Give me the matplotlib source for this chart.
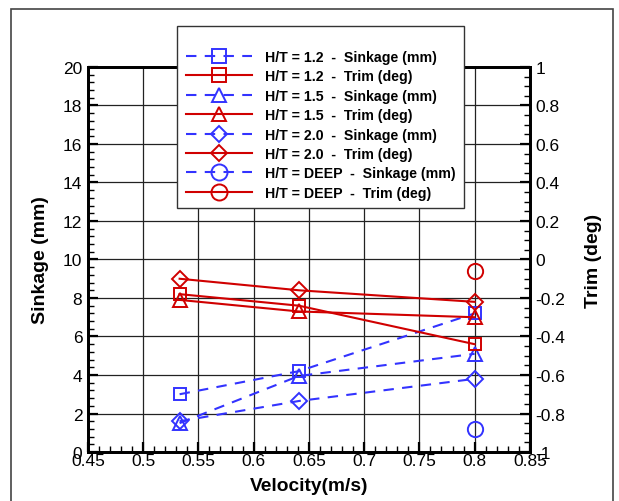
import matplotlib
matplotlib.use("Agg")
import matplotlib.pyplot as plt
from matplotlib.patches import Rectangle
from matplotlib.ticker import MultipleLocator, FuncFormatter

plt.rcParams['font.family'] = ['Liberation Sans', 'DejaVu Sans']

velocity = [0.533, 0.641, 0.8]
sink_12 = [3.0, 4.2, 7.2]
sink_15 = [1.5, 3.95, 5.1]
sink_20 = [1.6, 2.65, 3.8]
sink_deep_v = [0.8]
sink_deep = [1.2]
trim_12 = [-0.18, -0.24, -0.44]
trim_15 = [-0.21, -0.27, -0.30]
trim_20 = [-0.10, -0.16, -0.22]
trim_deep_v = [0.8]
trim_deep = [-0.06]

labels = ["H/T = 1.2  -  Sinkage (mm)", "H/T = 1.2  -  Trim (deg)",
          "H/T = 1.5  -  Sinkage (mm)", "H/T = 1.5  -  Trim (deg)",
          "H/T = 2.0  -  Sinkage (mm)", "H/T = 2.0  -  Trim (deg)",
          "H/T = DEEP  -  Sinkage (mm)", "H/T = DEEP  -  Trim (deg)"]

blue = '#3333ff'
red = '#d00000'

fig = plt.figure(figsize=(6.19, 5.02), dpi=100)
ax = fig.add_axes([0.142, 0.0976, 0.714, 0.767])
ax2 = ax.twinx()

ms = 9
bkw = dict(color=blue, ls=(0, (5, 4)), lw=1.5, mfc='none', mew=1.4)
rkw = dict(color=red, ls='-', lw=1.5, mfc='none', mew=1.4)

handles = []
h, = ax.plot(velocity, sink_12, marker='s', ms=ms, **bkw); handles.append(h)
h, = ax2.plot(velocity, trim_12, marker='s', ms=ms, **rkw); handles.append(h)
h, = ax.plot(velocity, sink_15, marker='^', ms=ms + 1, **bkw); handles.append(h)
h, = ax2.plot(velocity, trim_15, marker='^', ms=ms + 1, **rkw); handles.append(h)
h, = ax.plot(velocity, sink_20, marker='D', ms=ms - 1, **bkw); handles.append(h)
h, = ax2.plot(velocity, trim_20, marker='D', ms=ms - 1, **rkw); handles.append(h)
h, = ax.plot(sink_deep_v, sink_deep, marker='o', ms=ms + 2, **bkw); handles.append(h)
h, = ax2.plot(trim_deep_v, trim_deep, marker='o', ms=ms + 2, **rkw); handles.append(h)

ax.set_xlim(0.45, 0.85)
ax.set_ylim(0, 20)
ax2.set_ylim(-1, 1)
ax.xaxis.set_major_locator(MultipleLocator(0.05))
ax.xaxis.set_minor_locator(MultipleLocator(0.01))
ax.yaxis.set_major_locator(MultipleLocator(2))
ax.yaxis.set_minor_locator(MultipleLocator(0.4))
ax2.yaxis.set_major_locator(MultipleLocator(0.2))
ax2.yaxis.set_minor_locator(MultipleLocator(0.05))

fmt = FuncFormatter(lambda v, p: f"{round(v, 6):g}" if abs(v) > 1e-9 else "0")
ax.xaxis.set_major_formatter(fmt)
ax.yaxis.set_major_formatter(fmt)
ax2.yaxis.set_major_formatter(fmt)

ax.grid(True, which='major', color='#222222', lw=0.9)
ax.set_axisbelow(True)

for a in (ax, ax2):
    a.tick_params(which='major', direction='in', length=7, width=1.6, labelsize=12.5)
    a.tick_params(which='minor', direction='in', length=4, width=1.0)
    for s in a.spines.values():
        s.set_linewidth(2)
ax.tick_params(axis='both', which='both', top=False, right=False)
ax.tick_params(axis='x', pad=1)
ax.tick_params(axis='y', pad=4)
ax2.tick_params(axis='y', pad=4)

ax.set_xlabel("Velocity(m/s)", fontsize=13.8, fontweight='bold', labelpad=6)
ax.set_ylabel("Sinkage (mm)", fontsize=14, fontweight='bold', labelpad=10)
ax2.set_ylabel("Trim (deg)", fontsize=14, fontweight='bold', labelpad=14)

leg = fig.legend(handles, labels, loc='upper left', bbox_to_anchor=(0.286, 0.946),
                 prop={'weight': 'bold', 'size': 10.2}, title=' ', title_fontsize=7,
                 frameon=True, fancybox=False, edgecolor='#333333', framealpha=1,
                 handlelength=4.7, handletextpad=0.9, labelspacing=0.38,
                 borderpad=0.6, borderaxespad=0, markerscale=1.05)
leg.get_frame().set_linewidth(1.0)

# widen the legend frame on the right like the reference
fig.canvas.draw()
bb = leg.get_frame().get_bbox()
leg.get_frame().set_width(bb.width + 9)

fig.patches.append(Rectangle((11 / 619, -0.02), (613 - 11) / 619, 0.02 + (502 - 10) / 502,
                             transform=fig.transFigure, fill=False, edgecolor='#444444',
                             lw=1.2, zorder=0))

fig.savefig("out.png", dpi=100)
